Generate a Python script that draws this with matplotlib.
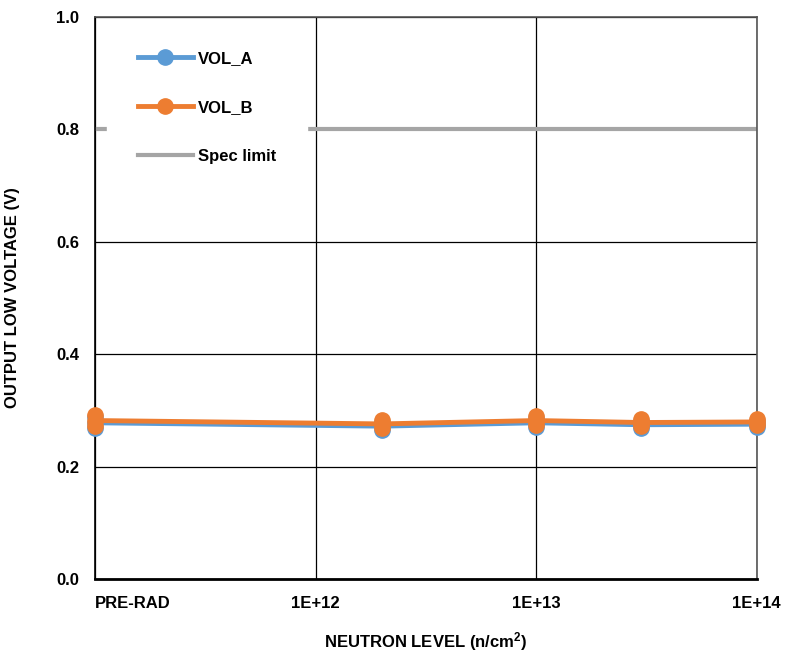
import numpy as np
import matplotlib.pyplot as plt

plt.rcParams['font.family'] = ['Liberation Sans', 'DejaVu Sans']
plt.rcParams['font.weight'] = 'bold'
plt.rcParams['axes.labelweight'] = 'bold'
plt.rcParams['mathtext.fontset'] = 'custom'
plt.rcParams['mathtext.rm'] = 'Liberation Sans:bold'
plt.rcParams['mathtext.bf'] = 'Liberation Sans:bold'
plt.rcParams['mathtext.default'] = 'bf'

# neutron levels (PRE-RAD drawn at 1e11)
levels = [1e11, 2e12, 1e13, 3e13, 1e14]

# per-unit readings (V)
vol_a_hi = [0.288, 0.279, 0.286, 0.281, 0.281]
vol_a_lo = [0.268, 0.265, 0.270, 0.268, 0.270]
vol_b_hi = [0.292, 0.283, 0.290, 0.285, 0.285]
vol_b_lo = [0.272, 0.269, 0.274, 0.272, 0.274]
spec_limit = 0.8

xtick_vals = [1e11, 1e12, 1e13, 1e14]
xtick_labels = ['PRE-RAD', '1E+12', '1E+13', '1E+14']
ytick_vals = [0.0, 0.2, 0.4, 0.6, 0.8, 1.0]

BLUE = '#5B9BD5'
ORANGE = '#ED7D31'
GRAY = '#A5A5A5'
FS = 12

fig = plt.figure(figsize=(7.85, 6.55), dpi=100)
ax = fig.add_axes([0.121, 0.116, 0.843, 0.858])

x = np.array(levels)
vol_a_mean = (np.array(vol_a_hi) + np.array(vol_a_lo)) / 2
vol_b_mean = (np.array(vol_b_hi) + np.array(vol_b_lo)) / 2

ax.plot(x, vol_a_mean, color=BLUE, lw=3.5, marker='o', ms=11,
        label='VOL_A', clip_on=False, zorder=3)
for vals in (vol_a_hi, vol_a_lo):
    ax.plot(x, vals, ls='none', marker='o', ms=11, color=BLUE,
            clip_on=False, zorder=3)
ax.plot(x, vol_b_mean, color=ORANGE, lw=3.5, marker='o', ms=11,
        label='VOL_B', clip_on=False, zorder=4)
for vals in (vol_b_hi, vol_b_lo):
    ax.plot(x, vals, ls='none', marker='o', ms=11, color=ORANGE,
            clip_on=False, zorder=4)
ax.plot([1e11, 1e14], [spec_limit, spec_limit], color=GRAY, lw=3,
        label='Spec limit', zorder=2)

ax.set_xscale('log')
ax.set_xlim(1e11, 1e14)
ax.set_ylim(0, 1.0)
ax.set_xticks(xtick_vals)
ax.set_xticklabels(xtick_labels)
ax.minorticks_off()
ax.set_yticks(ytick_vals)
ax.set_yticklabels([f'{v:.1f}' for v in ytick_vals])
ax.tick_params(axis='both', length=0, labelsize=FS)
ax.tick_params(axis='x', pad=12)
ax.tick_params(axis='y', pad=11.5)
ax.get_xticklabels()[0].set_horizontalalignment('left')

ax.grid(True, color='black', lw=0.9)
ax.set_axisbelow(True)
for side in ['top', 'right']:
    ax.spines[side].set_color('#555555')
    ax.spines[side].set_linewidth(1.2)
ax.spines['left'].set_linewidth(1.2)
ax.spines['bottom'].set_linewidth(2)

ax.set_xlabel(r'NEUTRON LEVEL (n/cm$^{2}$)', fontsize=FS, labelpad=14)
ax.set_ylabel('OUTPUT LOW VOLTAGE (V)', fontsize=FS, labelpad=26)

handles, labels = ax.get_legend_handles_labels()
leg = ax.legend(handles, labels, loc='upper left',
                bbox_to_anchor=(0.018, 0.995), frameon=True,
                fancybox=False, framealpha=1, facecolor='white',
                edgecolor='white', handlelength=3.3, handletextpad=0.3,
                labelspacing=2.05, borderpad=1.85, borderaxespad=0,
                prop={'size': FS, 'weight': 'bold'})
leg.set_zorder(2.2)
for h in leg.legend_handles:
    h.set_markersize(11)

fig.savefig('out.png', dpi=100)
